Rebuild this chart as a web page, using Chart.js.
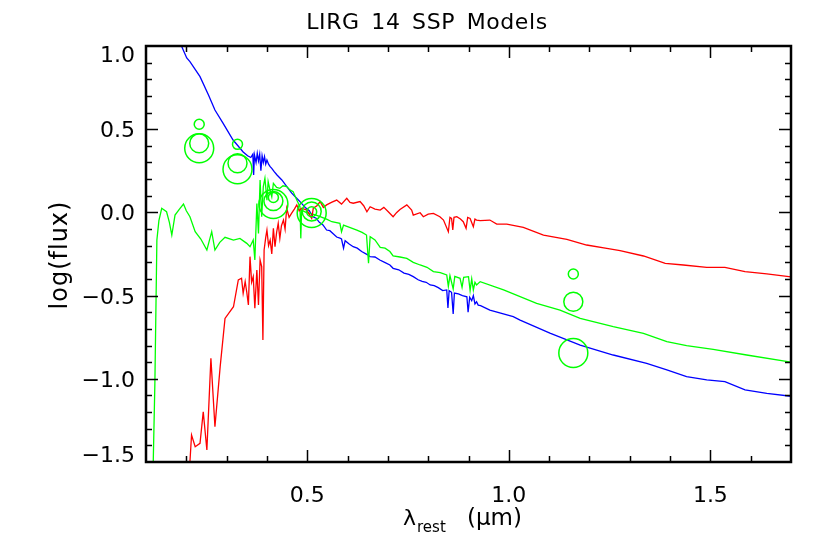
<!DOCTYPE html>
<html>
<head>
<meta charset="utf-8">
<script src="https://cdn.jsdelivr.net/npm/chart.js@4.4.0/dist/chart.umd.min.js"></script>
<style>
  html, body { margin: 0; padding: 0; background: #fff; }
</style>
</head>
<body>
<canvas id="grafico" width="830" height="554"></canvas>
<script>
// Spectra (wavelength in micron, log flux)
const azulX = [0.178, 0.188, 0.201, 0.209, 0.234, 0.255, 0.271, 0.291, 0.316, 0.341, 0.352, 0.360, 0.365, 0.367, 0.369, 0.373, 0.376, 0.379, 0.382, 0.385, 0.388, 0.391, 0.394, 0.397, 0.400, 0.404, 0.408, 0.412, 0.418, 0.425, 0.437, 0.448, 0.461, 0.472, 0.482, 0.495, 0.505, 0.514, 0.522, 0.530, 0.539, 0.548, 0.556, 0.565, 0.573, 0.581, 0.585, 0.590, 0.594, 0.604, 0.614, 0.624, 0.635, 0.650, 0.656, 0.668, 0.680, 0.692, 0.705, 0.713, 0.727, 0.740, 0.752, 0.763, 0.775, 0.785, 0.795, 0.805, 0.815, 0.825, 0.836, 0.846, 0.849, 0.852, 0.858, 0.862, 0.865, 0.875, 0.885, 0.896, 0.899, 0.903, 0.908, 0.912, 0.916, 0.920, 0.924, 0.930, 0.953, 1.011, 1.028, 1.102, 1.177, 1.259, 1.342, 1.392, 1.441, 1.491, 1.536, 1.586, 1.640, 1.700];
const azulY = [1.06, 1.0, 0.928, 0.906, 0.816, 0.706, 0.615, 0.537, 0.435, 0.363, 0.340, 0.330, 0.350, 0.225, 0.345, 0.300, 0.355, 0.310, 0.350, 0.250, 0.340, 0.300, 0.335, 0.290, 0.315, 0.290, 0.275, 0.265, 0.245, 0.225, 0.195, 0.160, 0.117, 0.090, 0.065, 0.030, 0.010, -0.026, -0.035, -0.060, -0.075, -0.106, -0.110, -0.130, -0.148, -0.154, -0.160, -0.215, -0.170, -0.190, -0.206, -0.215, -0.235, -0.255, -0.266, -0.268, -0.286, -0.300, -0.316, -0.336, -0.345, -0.365, -0.372, -0.386, -0.405, -0.415, -0.420, -0.436, -0.440, -0.452, -0.470, -0.466, -0.575, -0.470, -0.480, -0.610, -0.485, -0.490, -0.500, -0.507, -0.600, -0.510, -0.530, -0.500, -0.550, -0.537, -0.557, -0.560, -0.587, -0.627, -0.647, -0.725, -0.797, -0.857, -0.907, -0.947, -0.987, -1.007, -1.017, -1.067, -1.087, -1.105];

const verdeX = [0.117, 0.118, 0.122, 0.127, 0.132, 0.139, 0.151, 0.158, 0.164, 0.172, 0.183, 0.193, 0.200, 0.209, 0.222, 0.236, 0.251, 0.263, 0.271, 0.283, 0.296, 0.317, 0.333, 0.350, 0.358, 0.366, 0.370, 0.375, 0.379, 0.383, 0.387, 0.391, 0.395, 0.400, 0.403, 0.408, 0.412, 0.416, 0.424, 0.432, 0.440, 0.449, 0.457, 0.465, 0.474, 0.482, 0.484, 0.486, 0.497, 0.507, 0.520, 0.532, 0.548, 0.561, 0.581, 0.585, 0.590, 0.605, 0.623, 0.636, 0.647, 0.652, 0.656, 0.668, 0.681, 0.693, 0.705, 0.713, 0.730, 0.747, 0.763, 0.780, 0.797, 0.813, 0.830, 0.846, 0.850, 0.854, 0.862, 0.866, 0.879, 0.884, 0.888, 0.900, 0.904, 0.908, 0.912, 0.916, 0.920, 0.929, 0.987, 1.069, 1.127, 1.177, 1.259, 1.334, 1.392, 1.441, 1.507, 1.590, 1.700];
const verdeY = [-1.56, -1.498, -1.03, -0.166, -0.05, 0.025, 0.004, -0.060, -0.136, -0.016, 0.020, 0.050, 0.010, -0.026, -0.116, -0.160, -0.226, -0.116, -0.226, -0.180, -0.150, -0.166, -0.156, -0.186, -0.206, -0.166, -0.286, 0.054, -0.126, 0.195, -0.026, 0.155, 0.205, 0.074, 0.185, 0.130, 0.094, 0.175, 0.150, 0.145, 0.160, 0.155, 0.135, 0.125, 0.074, 0.034, -0.156, 0.014, 0.000, -0.006, -0.015, -0.026, -0.040, -0.056, -0.066, -0.116, -0.076, -0.090, -0.106, -0.120, -0.136, -0.306, -0.146, -0.165, -0.210, -0.215, -0.235, -0.262, -0.268, -0.276, -0.300, -0.316, -0.330, -0.356, -0.362, -0.376, -0.445, -0.380, -0.460, -0.385, -0.396, -0.450, -0.390, -0.386, -0.470, -0.400, -0.466, -0.420, -0.436, -0.416, -0.466, -0.547, -0.587, -0.637, -0.687, -0.727, -0.777, -0.801, -0.823, -0.857, -0.900];

const rojoX = [0.207, 0.209, 0.213, 0.222, 0.234, 0.242, 0.251, 0.261, 0.271, 0.284, 0.296, 0.317, 0.329, 0.337, 0.341, 0.346, 0.350, 0.354, 0.358, 0.362, 0.366, 0.370, 0.375, 0.379, 0.383, 0.387, 0.390, 0.393, 0.397, 0.400, 0.404, 0.408, 0.412, 0.416, 0.420, 0.424, 0.428, 0.432, 0.436, 0.441, 0.445, 0.449, 0.455, 0.461, 0.468, 0.474, 0.480, 0.486, 0.499, 0.511, 0.515, 0.524, 0.532, 0.540, 0.548, 0.560, 0.573, 0.585, 0.598, 0.606, 0.614, 0.631, 0.640, 0.648, 0.656, 0.668, 0.681, 0.690, 0.701, 0.713, 0.722, 0.730, 0.747, 0.759, 0.763, 0.780, 0.788, 0.800, 0.813, 0.829, 0.838, 0.850, 0.854, 0.858, 0.861, 0.864, 0.871, 0.880, 0.887, 0.894, 0.898, 0.904, 0.912, 0.916, 0.920, 0.929, 0.953, 0.970, 0.995, 1.036, 1.086, 1.144, 1.193, 1.243, 1.276, 1.334, 1.388, 1.433, 1.491, 1.536, 1.586, 1.640, 1.700];
const rojoY = [-1.56, -1.498, -1.338, -1.408, -1.388, -1.198, -1.428, -0.877, -1.288, -0.927, -0.637, -0.567, -0.406, -0.396, -0.486, -0.416, -0.480, -0.556, -0.266, -0.420, -0.386, -0.576, -0.346, -0.556, -0.286, -0.326, -0.767, -0.226, -0.150, -0.106, -0.200, -0.166, -0.250, -0.096, -0.206, -0.120, -0.066, -0.156, -0.080, -0.046, -0.100, 0.025, -0.030, -0.006, 0.020, 0.045, 0.010, 0.025, 0.014, -0.036, 0.025, 0.040, 0.065, 0.030, 0.045, 0.060, 0.074, 0.050, 0.085, 0.060, 0.055, 0.065, 0.040, 0.004, 0.034, 0.020, 0.014, 0.030, 0.004, -0.026, 0.000, 0.018, 0.045, 0.014, -0.016, -0.002, -0.026, -0.010, -0.006, -0.026, -0.046, -0.116, -0.030, -0.036, -0.106, -0.030, -0.026, -0.040, -0.056, -0.096, -0.030, -0.036, -0.086, -0.040, -0.046, -0.050, -0.046, -0.070, -0.070, -0.090, -0.136, -0.162, -0.196, -0.216, -0.230, -0.262, -0.306, -0.316, -0.330, -0.330, -0.356, -0.370, -0.388];

// Photometry circles (three symbol sizes)
const puntosX = [0.232, 0.327, 0.416, 0.511, 1.160];
const chicosY = [0.530, 0.409, 0.090, 0.004, -0.370];
const medianosY = [0.415, 0.295, 0.068, 0.006, -0.537];
const grandesY = [0.385, 0.259, 0.050, -0.004, -0.845];

// Axis ticks
const xTicks = [0.5, 1.0, 1.5];
const xTickLabels = ["0.5", "1.0", "1.5"];
const yTicks = [-1.5, -1.0, -0.5, 0.0, 0.5, 1.0];
const yTickLabels = ["\u22121.5", "\u22121.0", "\u22120.5", "0.0", "0.5", "1.0"];

const FUENTE = '"DejaVu Sans", sans-serif';

function pares(xs, ys) {
  return xs.map((x, i) => ({ x: x, y: ys[i] }));
}

function linea(xs, ys, color) {
  return {
    data: pares(xs, ys),
    showLine: true,
    borderColor: color,
    borderWidth: 1.3,
    pointRadius: 0,
    fill: false,
    clip: 0
  };
}

function circulos(ys, radio) {
  return {
    data: pares(puntosX, ys),
    showLine: false,
    pointRadius: radio,
    pointStyle: "circle",
    pointBorderColor: "#00ff00",
    pointBackgroundColor: "rgba(0,0,0,0)",
    pointBorderWidth: 1.5
  };
}

// Marco, ticks hacia dentro y textos al estilo IDL
const marco = {
  id: "marco",
  afterDatasetsDraw(chart) {
    const ctx = chart.ctx;
    const a = chart.chartArea;
    const sx = chart.scales.x;
    const sy = chart.scales.y;
    ctx.save();
    ctx.strokeStyle = "#000";
    ctx.fillStyle = "#000";

    // ticks
    ctx.lineWidth = 1.5;
    ctx.beginPath();
    for (let i = 1; i < 16; i++) {
      const v = 0.1 + i * 0.1;
      const px = Math.round(sx.getPixelForValue(v)) + 0.5;
      const largo = (i % 5 === 4) ? 12 : 6;
      ctx.moveTo(px, a.bottom); ctx.lineTo(px, a.bottom - largo);
      ctx.moveTo(px, a.top); ctx.lineTo(px, a.top + largo);
    }
    for (let i = 1; i < 25; i++) {
      const v = -1.5 + i * 0.1;
      const py = Math.round(sy.getPixelForValue(v)) + 0.5;
      const largo = (i % 5 === 0) ? 12 : 6;
      ctx.moveTo(a.left, py); ctx.lineTo(a.left + largo, py);
      ctx.moveTo(a.right, py); ctx.lineTo(a.right - largo, py);
    }
    ctx.stroke();

    // frame
    ctx.lineWidth = 2.5;
    ctx.strokeRect(a.left, a.top, a.right - a.left, a.bottom - a.top);

    // tick labels
    ctx.font = "22px " + FUENTE;
    ctx.textBaseline = "alphabetic";
    ctx.textAlign = "center";
    xTicks.forEach((v, i) => {
      ctx.fillText(xTickLabels[i], sx.getPixelForValue(v), a.bottom + 40);
    });
    ctx.textAlign = "right";
    yTicks.forEach((v, i) => {
      let base = sy.getPixelForValue(v) + 8;
      if (v === sy.max) base = a.top + 16;
      if (v === sy.min) base = a.bottom;
      ctx.fillText(yTickLabels[i], a.left - 11, base);
    });

    // title
    ctx.textAlign = "center";
    ctx.font = "22px " + FUENTE;
    ctx.letterSpacing = "0.6px";
    ctx.wordSpacing = "4px";
    ctx.fillText("LIRG 14 SSP Models", 427, 29);
    ctx.letterSpacing = "0px";
    ctx.wordSpacing = "0px";

    // x title: lambda_rest (um)
    ctx.textAlign = "left";
    ctx.font = "22px " + FUENTE;
    ctx.fillText("\u03bb", 403, 525);
    ctx.font = "15px " + FUENTE;
    ctx.fillText("rest", 417, 532);
    ctx.font = "23px " + FUENTE;
    ctx.fillText("(\u03bcm)", 467, 525);

    // y title
    ctx.translate(67, 255);
    ctx.rotate(-Math.PI / 2);
    ctx.textAlign = "center";
    ctx.font = "24px " + FUENTE;
    ctx.letterSpacing = "1px";
    ctx.fillText("log(flux)", 0, 0);
    ctx.restore();
  }
};

new Chart(document.getElementById("grafico").getContext("2d"), {
  type: "scatter",
  data: {
    datasets: [
      circulos(chicosY, 5),
      circulos(medianosY, 9.5),
      circulos(grandesY, 14.5),
      linea(rojoX, rojoY, "#ff0000"),
      linea(verdeX, verdeY, "#00ff00"),
      linea(azulX, azulY, "#0000ff")
    ]
  },
  options: {
    responsive: false,
    devicePixelRatio: 1,
    animation: false,
    layout: { padding: { top: 46, right: 39, left: 0, bottom: 0 } },
    scales: {
      x: {
        type: "linear",
        min: 0.1,
        max: 1.7,
        grid: { display: false },
        border: { display: false },
        ticks: { display: false },
        afterFit: (s) => { s.height = 92; }
      },
      y: {
        type: "linear",
        min: -1.5,
        max: 1.0,
        grid: { display: false },
        border: { display: false },
        ticks: { display: false },
        afterFit: (s) => { s.width = 146; }
      }
    },
    plugins: {
      legend: { display: false },
      title: { display: false },
      tooltip: { enabled: false }
    }
  },
  plugins: [marco]
});
</script>
</body>
</html>
